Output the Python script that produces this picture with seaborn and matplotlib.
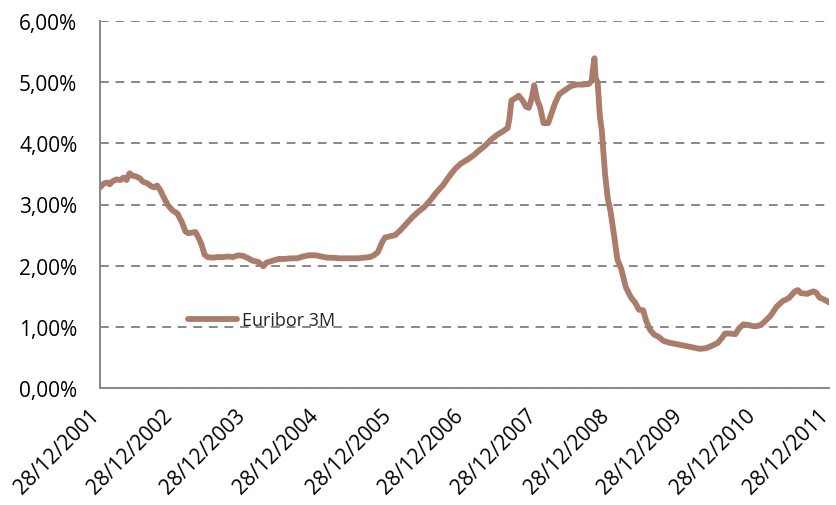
import pandas as pd
import numpy as np
import seaborn as sns
import matplotlib.pyplot as plt
import matplotlib.transforms as mtransforms
from matplotlib.ticker import FuncFormatter

# Euribor 3M, values (in %)
dates = [
    "2001-12-28", "2002-01-15", "2002-02-01", "2002-02-15", "2002-03-01", "2002-03-20",
    "2002-04-10", "2002-04-25", "2002-05-10", "2002-05-25", "2002-06-10", "2002-06-25",
    "2002-07-15", "2002-08-01", "2002-08-20", "2002-09-10", "2002-09-25", "2002-10-10",
    "2002-10-25", "2002-11-15", "2002-12-05", "2002-12-28", "2003-01-20", "2003-02-10",
    "2003-03-01", "2003-03-15", "2003-04-01", "2003-04-20", "2003-05-05", "2003-05-20",
    "2003-06-05", "2003-06-20", "2003-07-15", "2003-08-10", "2003-09-05", "2003-10-01",
    "2003-10-25", "2003-11-20", "2003-12-15", "2004-01-10", "2004-02-01", "2004-03-01",
    "2004-03-25", "2004-04-10", "2004-05-10", "2004-06-10", "2004-07-10", "2004-08-10",
    "2004-09-10", "2004-10-10", "2004-11-10", "2004-12-10", "2005-01-10", "2005-02-10",
    "2005-03-10", "2005-04-10", "2005-05-10", "2005-06-10", "2005-07-10", "2005-08-10",
    "2005-09-10", "2005-10-01", "2005-10-20", "2005-11-10", "2005-11-25", "2005-12-20",
    "2006-01-15", "2006-02-10", "2006-03-10", "2006-04-10", "2006-05-10", "2006-06-10",
    "2006-07-10", "2006-08-10", "2006-09-10", "2006-10-10", "2006-11-10", "2006-12-10",
    "2007-01-10", "2007-02-10", "2007-03-10", "2007-04-10", "2007-05-10", "2007-06-10",
    "2007-07-10", "2007-08-01", "2007-08-10", "2007-08-20", "2007-09-10", "2007-09-25",
    "2007-10-15", "2007-11-01", "2007-11-15", "2007-12-01", "2007-12-12", "2007-12-28",
    "2008-01-10", "2008-01-28", "2008-02-20", "2008-03-07", "2008-03-25", "2008-04-15",
    "2008-05-10", "2008-06-10", "2008-07-10", "2008-08-10", "2008-09-10", "2008-09-25",
    "2008-10-01", "2008-10-09", "2008-10-15", "2008-10-25", "2008-11-05", "2008-11-15",
    "2008-12-01", "2008-12-15", "2008-12-28", "2009-01-15", "2009-02-01", "2009-02-20",
    "2009-03-15", "2009-04-10", "2009-04-30", "2009-05-20", "2009-06-10", "2009-06-25",
    "2009-07-15", "2009-08-05", "2009-08-25", "2009-09-20", "2009-10-20", "2009-11-20",
    "2009-12-20", "2010-01-20", "2010-02-20", "2010-03-20", "2010-04-20", "2010-05-20",
    "2010-06-20", "2010-07-10", "2010-07-25", "2010-08-20", "2010-09-15", "2010-10-05",
    "2010-10-25", "2010-11-20", "2010-12-15", "2010-12-28", "2011-01-20", "2011-02-10",
    "2011-03-10", "2011-04-10", "2011-05-10", "2011-06-10", "2011-07-10", "2011-07-25",
    "2011-08-10", "2011-09-10", "2011-10-10", "2011-10-25", "2011-11-10", "2011-12-01",
    "2011-12-28",
]
euribor_3m = [
    3.28, 3.34, 3.36, 3.33, 3.38, 3.41,
    3.40, 3.44, 3.40, 3.51, 3.47, 3.46,
    3.43, 3.37, 3.35, 3.30, 3.28, 3.31,
    3.24, 3.10, 2.98, 2.90, 2.85, 2.72,
    2.56, 2.53, 2.54, 2.55, 2.46, 2.35,
    2.18, 2.14, 2.13, 2.14, 2.14, 2.15,
    2.14, 2.17, 2.16, 2.12, 2.08, 2.06,
    1.99, 2.05, 2.08, 2.11, 2.11, 2.12,
    2.12, 2.15, 2.17, 2.17, 2.15, 2.13,
    2.13, 2.12, 2.12, 2.12, 2.12, 2.13,
    2.14, 2.17, 2.22, 2.38, 2.46, 2.48,
    2.50, 2.58, 2.68, 2.79, 2.88, 2.96,
    3.07, 3.20, 3.31, 3.45, 3.58, 3.67,
    3.73, 3.80, 3.88, 3.96, 4.06, 4.14,
    4.20, 4.25, 4.40, 4.70, 4.74, 4.78,
    4.70, 4.60, 4.58, 4.75, 4.95, 4.70,
    4.60, 4.33, 4.33, 4.48, 4.65, 4.80,
    4.86, 4.93, 4.96, 4.96, 4.97, 5.02,
    5.20, 5.39, 5.06, 5.00, 4.45, 4.20,
    3.50, 3.09, 2.90, 2.50, 2.10, 1.95,
    1.65, 1.48, 1.40, 1.28, 1.27, 1.10,
    0.95, 0.87, 0.84, 0.77, 0.74, 0.72,
    0.70, 0.68, 0.66, 0.64, 0.65, 0.69,
    0.74, 0.82, 0.89, 0.89, 0.88, 0.98,
    1.04, 1.03, 1.01, 1.01, 1.03, 1.09,
    1.18, 1.33, 1.42, 1.47, 1.58, 1.60,
    1.55, 1.54, 1.58, 1.56, 1.48, 1.45,
    1.40,
]
tick_dates = ["2001-12-28", "2002-12-28", "2003-12-28", "2004-12-28", "2005-12-28",
              "2006-12-28", "2007-12-28", "2008-12-28", "2009-12-28", "2010-12-28",
              "2011-12-28"]

LINE_COLOR = "#A97C6B"
GREY = "#878787"
TICK_SIZE = 15
LEGEND_SIZE = 13

df = pd.DataFrame({"date": pd.to_datetime(dates), "Euribor 3M": euribor_3m})

sns.set_style("white")
plt.rcParams["font.family"] = ["Open Sans", "DejaVu Sans"]

fig = plt.figure(figsize=(8.36, 5.06), dpi=100)
ax = fig.add_axes([100 / 836, 1 - 389 / 506, 729 / 836, 367 / 506])

sns.lineplot(data=df, x="date", y="Euribor 3M", ax=ax, color=LINE_COLOR,
             linewidth=4.2, label="Euribor 3M")

# axes
ticks = pd.to_datetime(tick_dates)
ax.set_xlim(ticks[0], ticks[-1])
ax.set_ylim(0, 6)
ax.set_yticks(np.arange(0, 7, 1))
ax.yaxis.set_major_formatter(FuncFormatter(lambda v, p: f"{v:.2f}%".replace(".", ",")))
ax.set_xticks(ticks)
ax.set_xticklabels([t.strftime("%d/%m/%Y") for t in ticks], rotation=45,
                   ha="right", va="baseline", rotation_mode="anchor")
# anchor the end of each label's baseline just right of its tick
shift = mtransforms.ScaledTranslation(3 / 100, 0, fig.dpi_scale_trans)
for lbl in ax.get_xticklabels():
    lbl.set_transform(lbl.get_transform() + shift)
ax.set_xlabel("")
ax.set_ylabel("")

for side in ["top", "right"]:
    ax.spines[side].set_visible(False)
for side in ["left", "bottom"]:
    ax.spines[side].set_color(GREY)
    ax.spines[side].set_linewidth(1.4)

ax.tick_params(axis="both", direction="out", length=6.3, width=1.4, color=GREY,
               labelsize=TICK_SIZE, labelcolor="black")
ax.tick_params(axis="x", pad=14)
ax.tick_params(axis="y", pad=10)

ax.yaxis.grid(True, linestyle=(0, (4.5, 3.5)), color=GREY, linewidth=1.4)
ax.xaxis.grid(False)
ax.set_axisbelow(True)

ax.legend(loc="center left", bbox_to_anchor=(0.121, 0.185), frameon=False,
          fontsize=LEGEND_SIZE, handlelength=2.7, handletextpad=0.3, borderpad=0,
          borderaxespad=0)

fig.savefig("out.png", dpi=100)
